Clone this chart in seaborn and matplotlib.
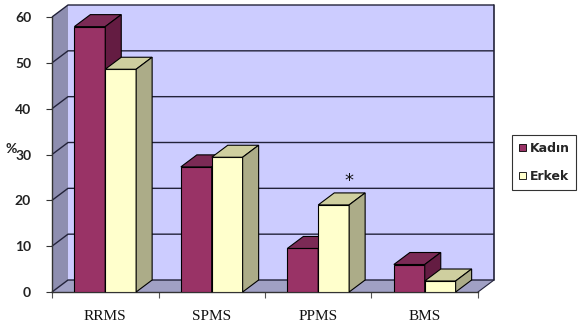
import numpy as np
import pandas as pd
import matplotlib
matplotlib.use("Agg")
import matplotlib.pyplot as plt
import seaborn as sns
from matplotlib.patches import Polygon, Patch, Rectangle

# ---- data -------------------------------------------------------------
categories = ["RRMS", "SPMS", "PPMS", "BMS"]
groups = ["Kadın", "Erkek"]
kadin = [57.9, 27.3, 9.5, 6.0]
erkek = [48.6, 29.4, 19.0, 2.4]
yticks = [0, 10, 20, 30, 40, 50, 60]

df = pd.DataFrame({
    "type": categories * 2,
    "pct": kadin + erkek,
    "sex": [groups[0]] * len(kadin) + [groups[1]] * len(erkek),
})

# ---- styling ----------------------------------------------------------
front = {"Kadın": "#993366", "Erkek": "#ffffcc"}
top = {"Kadın": "#7b2a55", "Erkek": "#cfcf9f"}
side = {"Kadın": "#641c42", "Erkek": "#acac88"}
back_wall = "#ccccff"
left_wall = "#8e8eb0"
floor_col = "#a0a0c4"
grid_col = "#22223a"
DEPTH_PX = (16, 12)   # 3-D depth offset in pixels

sns.set_theme(style="white")
fig = plt.figure(figsize=(5.79, 3.26), dpi=100)
ax = fig.add_axes([52 / 579, 34 / 326, 426 / 579, 275 / 326])
ax.patch.set_visible(False)

sns.barplot(data=df, x="type", y="pct", hue="sex", hue_order=groups,
            order=categories, palette=front, width=0.58, saturation=1,
            edgecolor="black", linewidth=0.8, ax=ax, legend=False)
ax.set_xlim(-0.5, 3.5)
ax.set_ylim(0, 60)

# depth offset expressed in data units
o = ax.transData.transform((0, 0))
ddx, ddy = ax.transData.inverted().transform(o + np.array(DEPTH_PX))
x0, x1 = ax.get_xlim()
ymax = yticks[-1]

# walls and floor
ax.add_patch(Rectangle((x0 + ddx, ddy), x1 - x0, ymax, facecolor=back_wall,
                       edgecolor="none", zorder=0.5, clip_on=False))
ax.add_patch(Polygon([(x0, 0), (x0, ymax), (x0 + ddx, ymax + ddy), (x0 + ddx, ddy)],
                     closed=True, facecolor=left_wall, edgecolor="none",
                     zorder=0.5, clip_on=False))
ax.add_patch(Polygon([(x0, 0), (x1, 0), (x1 + ddx, ddy), (x0 + ddx, ddy)],
                     closed=True, facecolor=floor_col, edgecolor="none",
                     zorder=0.5, clip_on=False))

# gridlines running across left wall and back wall
for v in yticks:
    ax.plot([x0, x0 + ddx, x1 + ddx], [v, v + ddy, v + ddy], color=grid_col,
            lw=1.0, zorder=0.8, clip_on=False, solid_capstyle="butt")
ax.plot([x1 + ddx, x1 + ddx], [ddy, ymax + ddy], color=grid_col, lw=1.2,
        zorder=0.8, clip_on=False)
ax.plot([x1, x1 + ddx], [0, ddy], color=grid_col, lw=0.8, zorder=0.8, clip_on=False)

# turn flat bars into boxes: add top and side faces, draw left to right
bars = list(ax.patches[:len(df)])
labels_of = {id(p): groups[i // len(categories)] for i, p in enumerate(bars)}
bars.sort(key=lambda p: p.get_x())
star_x = star_y = None
for k, p in enumerate(bars):
    g = labels_of[id(p)]
    bx, bw, bh = p.get_x(), p.get_width(), p.get_height()
    z = 3 + k * 0.1
    p.set_zorder(z)
    ax.add_patch(Polygon([(bx, bh), (bx + bw, bh), (bx + bw + ddx, bh + ddy), (bx + ddx, bh + ddy)],
                         closed=True, facecolor=top[g], edgecolor="black", lw=0.8,
                         zorder=z, clip_on=False))
    ax.add_patch(Polygon([(bx + bw, 0), (bx + bw, bh), (bx + bw + ddx, bh + ddy), (bx + bw + ddx, ddy)],
                         closed=True, facecolor=side[g], edgecolor="black", lw=0.8,
                         zorder=z, clip_on=False))
    if g == "Erkek" and int(np.floor(bx + 0.5)) == categories.index("PPMS"):
        star_x, star_y = bx + bw, bh

# significance marker above PPMS
ax.text(star_x, star_y + 5.2, "*", ha="center", va="center", fontsize=13,
        color="#111111", zorder=10)

# axes, ticks and labels
for s in ["top", "right"]:
    ax.spines[s].set_visible(False)
for s in ["left", "bottom"]:
    ax.spines[s].set_color("#333333")
    ax.spines[s].set_linewidth(1.0)
    ax.spines[s].set_zorder(2.5)

ax.set_yticks(yticks)
ax.set_yticklabels([str(v) for v in yticks], fontfamily="Lato",
                   fontweight="bold", fontsize=10, color="#222222")
ax.tick_params(axis="y", length=4, width=0.8, color="#333333", pad=11, left=True)

ax.set_xticks(range(len(categories)))
ax.set_xticklabels(categories, fontfamily="Liberation Serif", fontsize=11,
                   color="#111111")
ax.set_xticks(np.arange(-0.5, len(categories), 1.0), minor=True)
ax.tick_params(axis="x", which="major", length=0, pad=13)
ax.tick_params(axis="x", which="minor", length=4, width=0.8, color="#555555",
               bottom=True)
ax.set_xlabel("")
ax.set_ylabel("")
fig.text(11 / 579, 1 - 149 / 326, "%", ha="center", va="center",
         fontfamily="Lato", fontweight="bold", fontsize=10, color="#222222")

handles = [Patch(facecolor=front[g], edgecolor="black", linewidth=0.6) for g in groups]
leg = fig.legend(handles, groups, loc="upper left",
                 bbox_to_anchor=(512 / 579, 1 - 135 / 326),
                 bbox_transform=fig.transFigure, frameon=True, fancybox=False,
                 prop={"family": "DejaVu Sans", "weight": "bold", "size": 9},
                 handlelength=0.55, handleheight=0.55, handletextpad=0.3,
                 labelspacing=1.2, borderpad=0.55, borderaxespad=0)
leg.get_frame().set_edgecolor("black")
leg.get_frame().set_linewidth(0.8)

fig.savefig("out.png", dpi=100, facecolor="white")
